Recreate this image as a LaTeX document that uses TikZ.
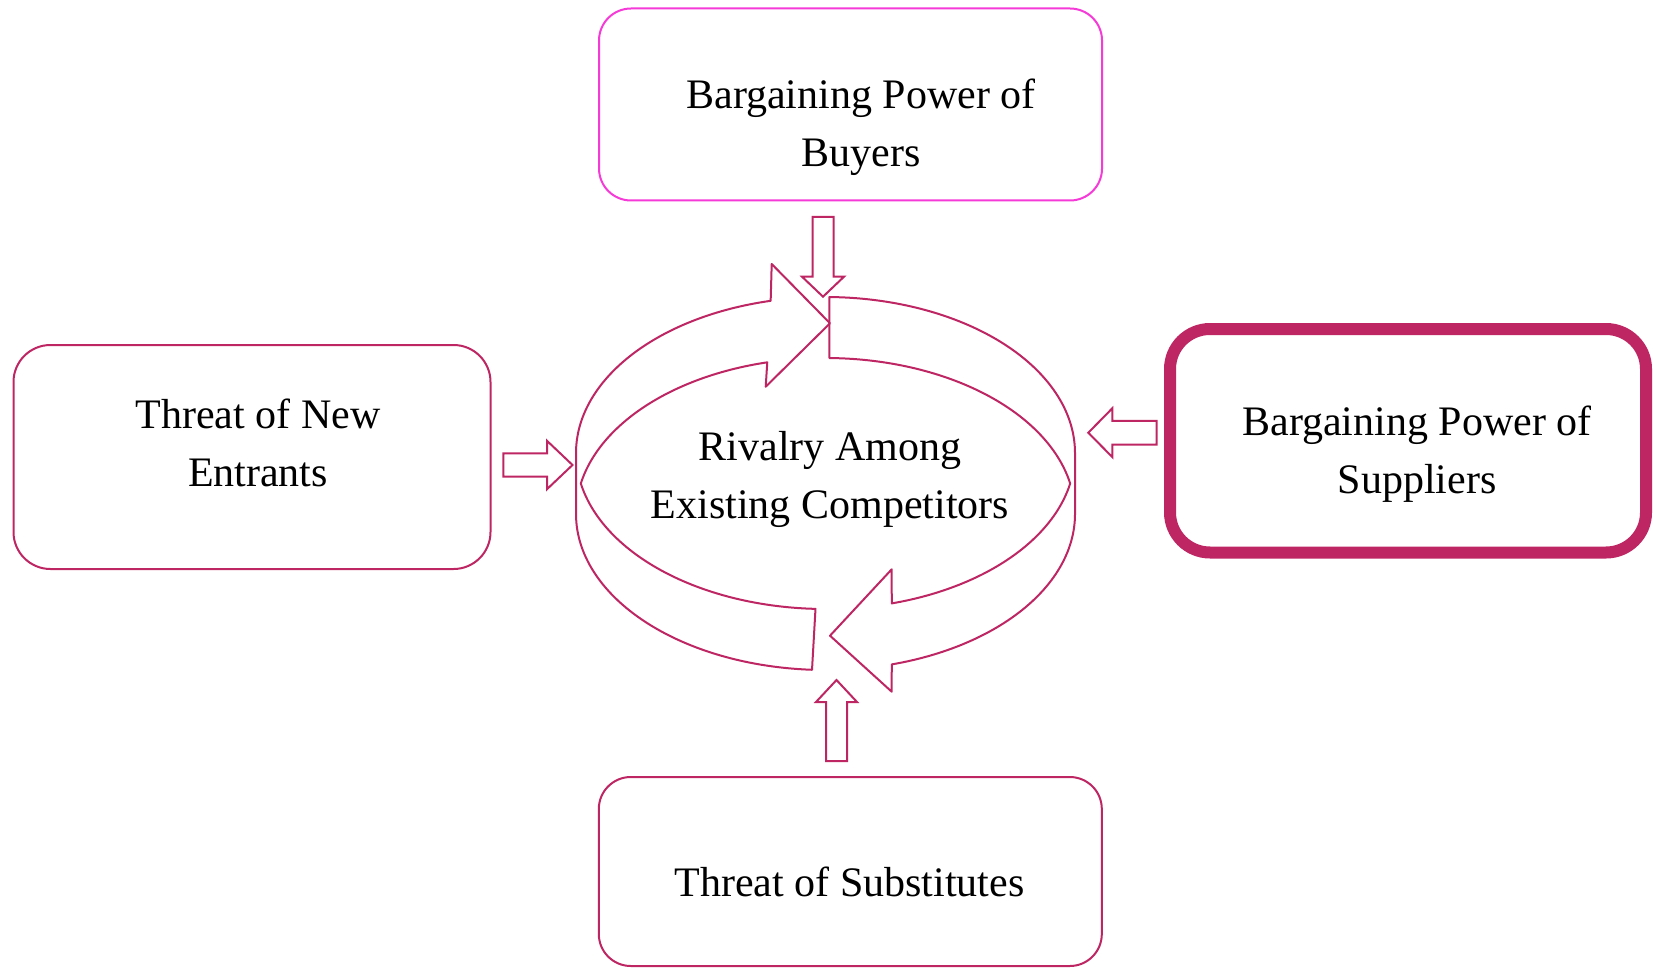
\documentclass[tikz,border=0pt]{standalone}
\usepackage{fontspec}
\setmainfont{Liberation Serif}
\definecolor{crim}{RGB}{190,38,99}
\definecolor{pinkm}{RGB}{245,58,215}
\begin{document}
\begin{tikzpicture}[x=1pt,y=-1pt,
  box/.style={draw=crim, line width=2pt, rounded corners=#1, inner sep=0pt, outer sep=0pt},
  lbl/.style={font=\fontsize{42}{58}\selectfont, align=center, inner sep=0pt, text=black},
  ring/.style={draw=crim, line width=2pt, line join=round},
  blockarrow/.style={draw=crim, line width=2pt, line join=miter}]
\useasboundingbox (0,0) rectangle (1653,968);
\def\cx{825.5}\def\rx{249.5}\def\ca{453}\def\cb{514}\def\ry{156}

% boxes
\node[box=32pt, draw=pinkm, minimum width=503pt, minimum height=192pt] (buyers) at (850.5,104.5) {};
\node[box=37pt, minimum width=477pt, minimum height=224pt] (entrants) at (252,457) {};
\node[box=40pt, line width=12pt, minimum width=476pt, minimum height=223.5pt] (suppliers) at (1408,440.75) {};
\node[box=32pt, minimum width=503pt, minimum height=189pt] (substitutes) at (850.3,871.5) {};

% labels
\node[lbl] (buyersText) at (861,125.6) {Bargaining Power of\strut\\Buyers\strut};
\node[lbl] (entrantsText) at (258,445.6) {Threat of New\strut\\Entrants\strut};
\node[lbl] (suppliersText) at (1417,452.4) {Bargaining Power of\strut\\Suppliers\strut};
\node[lbl] (substitutesText) at (849.5,884.4) {Threat of Substitutes\strut};
\node[lbl] (rivalry) at (830,477.6) {Rivalry Among\strut\\Existing Competitors\strut};

% central cycle: left arrow (clockwise, pointing right at top)
\draw[ring] plot[domain=266.9:180, samples=60, variable=\t] ({\cx+\rx*cos(\t)},{\cb-\ry*sin(\t)})
  -- plot[domain=180:102.7, samples=60, variable=\t] ({\cx+\rx*cos(\t)},{\ca-\ry*sin(\t)})
  -- (771.7,264) -- (830,323.3) -- (765.7,386.7)
  -- plot[domain=103.5:168.73, samples=60, variable=\t] ({\cx+\rx*cos(\t)},{\cb-\ry*sin(\t)})
  -- plot[domain=191.27:267.7, samples=60, variable=\t] ({\cx+\rx*cos(\t)},{\ca-\ry*sin(\t)})
  -- cycle;
% right arrow (clockwise, pointing left at bottom)
\draw[ring] plot[domain=89.1:0, samples=60, variable=\t] ({\cx+\rx*cos(\t)},{\ca-\ry*sin(\t)})
  -- plot[domain=360:285.4, samples=60, variable=\t] ({\cx+\rx*cos(\t)},{\cb-\ry*sin(\t)})
  -- (891.7,691.7) -- (830,635.7) -- (891.7,569.3)
  -- plot[domain=285.4:348.73, samples=60, variable=\t] ({\cx+\rx*cos(\t)},{\ca-\ry*sin(\t)})
  -- plot[domain=11.27:89.1, samples=60, variable=\t] ({\cx+\rx*cos(\t)},{\cb-\ry*sin(\t)})
  -- cycle;

% small block arrows
\draw[blockarrow] (812.5,217) -- (833.5,217) -- (833.5,276.7) -- (844,276.7) -- (823,296.7) -- (802,276.7) -- (812.5,276.7) -- cycle;
\draw[blockarrow] (826,761) -- (847,761) -- (847,702) -- (857,702) -- (836.5,680) -- (816,702) -- (826,702) -- cycle;
\draw[blockarrow] (503.3,453.3) -- (547,453.3) -- (547,440.8) -- (572.5,465) -- (547,489.2) -- (547,476.7) -- (503.3,476.7) -- cycle;
\draw[blockarrow] (1156.7,420.9) -- (1112.3,420.9) -- (1112.3,408.3) -- (1088.3,432.7) -- (1112.3,457.1) -- (1112.3,444.5) -- (1156.7,444.5) -- cycle;
\end{tikzpicture}
\end{document}
